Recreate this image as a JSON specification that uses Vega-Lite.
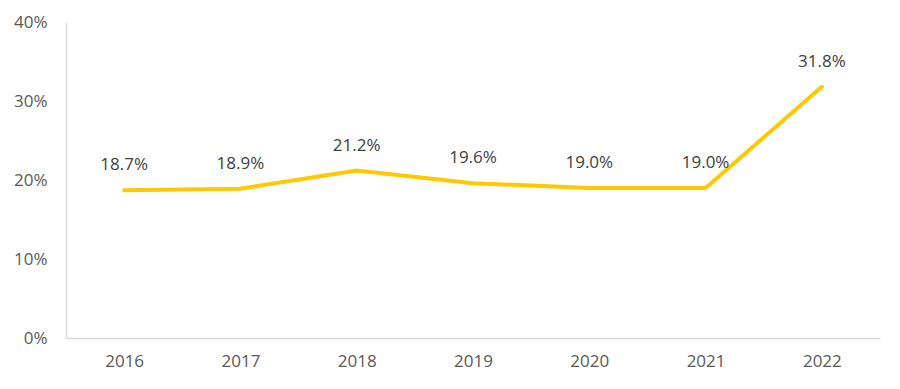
{
  "$schema": "https://vega.github.io/schema/vega-lite/v6.json",
  "width": 814,
  "height": 316,
  "autosize": {"type": "none"},
  "padding": {"left": 66, "top": 22, "right": 20, "bottom": 51},
  "background": "white",
  "config": {
    "view": {"stroke": null},
    "font": "Open Sans"
  },
  "data": {
    "values": [
      {"year": "2016", "value": 0.187},
      {"year": "2017", "value": 0.189},
      {"year": "2018", "value": 0.212},
      {"year": "2019", "value": 0.196},
      {"year": "2020", "value": 0.190},
      {"year": "2021", "value": 0.190},
      {"year": "2022", "value": 0.318}
    ]
  },
  "encoding": {
    "x": {
      "field": "year",
      "type": "ordinal",
      "scale": {"paddingInner": 0, "paddingOuter": 0.5},
      "axis": {
        "title": null,
        "labelAngle": 0,
        "labelFont": "Open Sans",
        "labelFontSize": 17,
        "labelColor": "#595959",
        "labelPadding": 15,
        "ticks": false,
        "domainColor": "#d9d9d9",
        "domainWidth": 1.5,
        "grid": false
      }
    },
    "y": {
      "field": "value",
      "type": "quantitative",
      "scale": {"domain": [0, 0.4], "nice": false},
      "axis": {
        "title": null,
        "format": ".0%",
        "values": [0, 0.1, 0.2, 0.3, 0.4],
        "labelFont": "Open Sans",
        "labelFontSize": 17,
        "labelColor": "#595959",
        "labelPadding": 19,
        "ticks": false,
        "grid": false,
        "domainColor": "#d9d9d9",
        "domainWidth": 1.5
      }
    }
  },
  "layer": [
    {
      "mark": {"type": "line", "color": "#FFC800", "strokeWidth": 4, "strokeCap": "round"}
    },
    {
      "mark": {"type": "text", "dy": -25, "fontSize": 17, "font": "Open Sans", "color": "#404040"},
      "encoding": {
        "text": {"field": "value", "type": "quantitative", "format": ".1%"}
      }
    }
  ]
}
